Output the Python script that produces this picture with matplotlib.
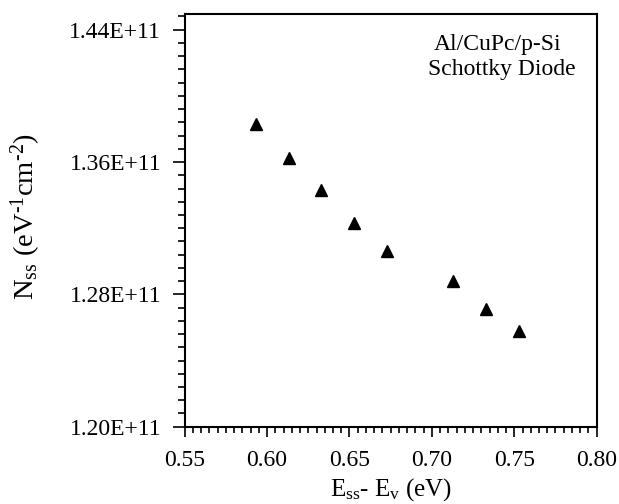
import matplotlib
matplotlib.use("Agg")
import matplotlib.pyplot as plt
from matplotlib.ticker import MultipleLocator, FuncFormatter

plt.rcParams['font.family'] = ['Liberation Serif', 'DejaVu Serif']
plt.rcParams['mathtext.fontset'] = 'custom'
plt.rcParams['mathtext.rm'] = 'Liberation Serif'
plt.rcParams['mathtext.it'] = 'Liberation Serif:italic'

# Energy below conduction band (eV) and interface state density
e_ss = [0.593, 0.613, 0.633, 0.653, 0.673, 0.713, 0.733, 0.753]
n_ss = [1.3832e11, 1.3622e11, 1.3431e11, 1.3232e11, 1.3061e11,
        1.2882e11, 1.2710e11, 1.2580e11]


def main():
    fig = plt.figure(figsize=(6.19, 5.04), dpi=100)
    ax = fig.add_axes([184.7 / 619, 1 - 426.7 / 504, 412 / 619, 412.7 / 504])

    ax.plot(e_ss, n_ss, linestyle='none', marker='^', color='black',
            markersize=8)

    ax.set_xlim(0.55, 0.80)
    ax.set_ylim(1.20e11, 1.4495e11)
    ax.xaxis.set_major_locator(MultipleLocator(0.05))
    ax.xaxis.set_minor_locator(MultipleLocator(0.005))
    ax.yaxis.set_major_locator(MultipleLocator(0.08e11))
    ax.yaxis.set_minor_locator(MultipleLocator(0.008e11))
    ax.xaxis.set_major_formatter(FuncFormatter(lambda v, p: f"{v:.2f}"))
    ax.yaxis.set_major_formatter(FuncFormatter(lambda v, p: f"{v:.2E}"))

    ax.tick_params(which='both', direction='out', width=1.2, labelsize=17,
                   top=False, right=False, colors='black')
    ax.tick_params(axis='y', which='major', length=9, pad=8)
    ax.tick_params(axis='y', which='minor', length=5)
    ax.tick_params(axis='x', which='major', length=7, pad=9.5)
    ax.tick_params(axis='x', which='minor', length=4)
    for s in ax.spines.values():
        s.set_linewidth(1.5)

    ax.set_xlabel(r'E$_{\mathrm{ss}}$- E$_{\mathrm{v}}$ (eV)', fontsize=18,
                  labelpad=4)
    ax.set_ylabel(r'N$_{\mathrm{ss}}$ (eV$^{\text{-1}}$cm$^{\text{-2}}$)',
                  fontsize=20.5)
    ax.yaxis.set_label_coords(-0.343, 0.51)

    ax.text(0.76, 0.925, 'Al/CuPc/p-Si', transform=ax.transAxes,
            ha='center', va='center', fontsize=17)
    ax.text(0.77, 0.865, 'Schottky Diode', transform=ax.transAxes,
            ha='center', va='center', fontsize=17)

    fig.savefig("out.png", dpi=100)


if __name__ == "__main__":
    main()
